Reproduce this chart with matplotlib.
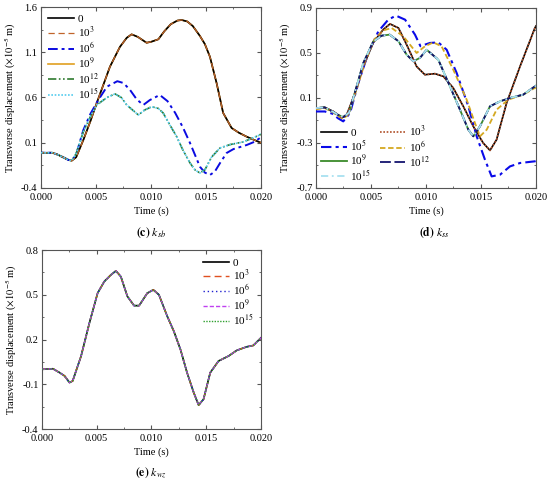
import matplotlib
matplotlib.use("Agg")
import matplotlib.pyplot as plt
from matplotlib.ticker import MultipleLocator, FormatStrFormatter

plt.rcParams['font.family'] = ['Liberation Serif', 'DejaVu Serif']
plt.rcParams['mathtext.fontset'] = 'stix'
plt.rcParams['axes.unicode_minus'] = False
plt.rcParams['font.size'] = 8

# ---- (c) k_sb ----
t_sb_a = [0, 0.0005, 0.001, 0.0015, 0.002, 0.0025, 0.0028, 0.0032, 0.00385, 0.0045,
          0.00506, 0.0057, 0.00627, 0.00718, 0.0078, 0.00824, 0.0088, 0.0096, 0.01, 0.01067,
          0.0112, 0.0118, 0.0124, 0.0128, 0.0133, 0.0138, 0.01445, 0.0149, 0.01536, 0.01597,
          0.01656, 0.01733, 0.018, 0.0187, 0.0194, 0.02]
v_sb_a = [-0.01, -0.012, -0.01, -0.03, -0.06, -0.09, -0.098, -0.06, 0.13, 0.34,
          0.536, 0.75, 0.94, 1.16, 1.26, 1.298, 1.27, 1.205, 1.215, 1.243,
          1.33, 1.41, 1.45, 1.456, 1.44, 1.39, 1.28, 1.19, 1.05, 0.757,
          0.43, 0.263, 0.21, 0.167, 0.13, 0.1]
t_sb_b = [0, 0.0005, 0.001, 0.0015, 0.002, 0.0025, 0.0028, 0.0032, 0.00385, 0.0045,
          0.0052, 0.006, 0.00694, 0.0075, 0.0081, 0.0087, 0.0093, 0.0099, 0.0108, 0.0115,
          0.0122, 0.0129, 0.01355, 0.01445, 0.0149, 0.01536, 0.0158, 0.0163, 0.01688, 0.0175,
          0.0187, 0.0194, 0.0199, 0.02]
v_sb_b = [-0.01, -0.012, -0.01, -0.03, -0.06, -0.09, -0.098, -0.03, 0.24, 0.42,
          0.57, 0.72, 0.78, 0.76, 0.683, 0.58, 0.517, 0.572, 0.628, 0.56,
          0.43, 0.27, 0.097, -0.165, -0.23, -0.256, -0.22, -0.12, -0.013, 0.03,
          0.075, 0.11, 0.152, 0.16]
t_sb_c = [0, 0.0005, 0.001, 0.0015, 0.002, 0.0025, 0.0028, 0.0032, 0.00385, 0.0045,
          0.00506, 0.006, 0.00673, 0.0073, 0.0078, 0.00885, 0.0094, 0.01006, 0.01066, 0.0111,
          0.0117, 0.01234, 0.0129, 0.01355, 0.014, 0.01445, 0.0149, 0.0155, 0.01627, 0.0172,
          0.01836, 0.0192, 0.0199, 0.02]
v_sb_c = [-0.01, -0.012, -0.01, -0.03, -0.06, -0.09, -0.098, -0.02, 0.22, 0.39,
          0.517, 0.6, 0.64, 0.6, 0.517, 0.407, 0.46, 0.498, 0.48, 0.43,
          0.3, 0.167, 0.02, -0.124, -0.2, -0.234, -0.2, -0.06, 0.042, 0.08,
          0.108, 0.15, 0.186, 0.2]

# ---- (d) k_ss ----
t_ss_0 = [0, 0.0008, 0.00158, 0.002, 0.00233, 0.0028, 0.00355, 0.0043, 0.0052, 0.0061,
          0.00673, 0.0075, 0.00824, 0.00915, 0.0099, 0.01082, 0.01158, 0.01248, 0.01339, 0.0143,
          0.0152, 0.01582, 0.01642, 0.01733, 0.01855, 0.0199, 0.02]
v_ss_0 = [0.01, 0.016, -0.02, -0.05, -0.078, -0.048, 0.144, 0.38, 0.59, 0.707,
          0.758, 0.722, 0.574, 0.38, 0.307, 0.316, 0.292, 0.189, 0.026, -0.152,
          -0.3, -0.366, -0.27, 0.056, 0.38, 0.722, 0.74]
t_ss_5 = [0, 0.0008, 0.0015, 0.002, 0.00248, 0.0031, 0.00385, 0.00476, 0.00567, 0.00657,
          0.00727, 0.0081, 0.009, 0.0095, 0.0099, 0.01036, 0.01112, 0.01188, 0.01279, 0.01385,
          0.01461, 0.01536, 0.01597, 0.01673, 0.01764, 0.01855, 0.0199, 0.02]
v_ss_5 = [-0.02, -0.02, -0.04, -0.08, -0.108, -0.033, 0.233, 0.5, 0.692, 0.796,
          0.832, 0.796, 0.663, 0.56, 0.574, 0.589, 0.594, 0.529, 0.322, 0.026,
          -0.241, -0.448, -0.597, -0.582, -0.508, -0.478, -0.463, -0.46]
t_ss_6 = [0, 0.0008, 0.0015, 0.002, 0.0025, 0.003, 0.0037, 0.0045, 0.0053, 0.0061,
          0.00688, 0.00794, 0.00915, 0.0099, 0.01067, 0.01142, 0.01248, 0.0137, 0.01445, 0.01491,
          0.01552, 0.01642, 0.01748, 0.01885, 0.0199, 0.02]
v_ss_6 = [0.0, 0.01, -0.025, -0.06, -0.085, -0.04, 0.18, 0.43, 0.62, 0.70,
          0.722, 0.648, 0.5, 0.559, 0.594, 0.559, 0.352, 0.085, -0.122, -0.241,
          -0.182, -0.004, 0.085, 0.13, 0.189, 0.19]
t_ss_9 = [0, 0.0008, 0.0015, 0.002, 0.0025, 0.003, 0.0036, 0.0043, 0.0052, 0.00597,
          0.0067, 0.0075, 0.00824, 0.00885, 0.00945, 0.01006, 0.01112, 0.01218, 0.01309, 0.01385,
          0.0143, 0.01491, 0.01582, 0.01673, 0.01764, 0.01885, 0.0199, 0.02]
v_ss_9 = [0.01, 0.016, -0.02, -0.05, -0.07, -0.03, 0.17, 0.41, 0.6, 0.654,
          0.663, 0.604, 0.485, 0.426, 0.456, 0.529, 0.44, 0.203, -0.004, -0.182,
          -0.241, -0.152, 0.026, 0.07, 0.1, 0.13, 0.203, 0.21]

# ---- (e) k_wz ----
t_wz = [0, 0.001, 0.0016, 0.00206, 0.00251, 0.0028, 0.00357, 0.00433, 0.00508, 0.00569,
        0.00629, 0.00675, 0.0072, 0.0078, 0.00841, 0.00887, 0.00962, 0.01017, 0.01068, 0.01144,
        0.01204, 0.01265, 0.01325, 0.01386, 0.01431, 0.01476, 0.01537, 0.01613, 0.01704, 0.01779,
        0.0187, 0.0193, 0.02]
v_wz = [0.0, 0.004, -0.022, -0.044, -0.089, -0.078, 0.089, 0.311, 0.511, 0.589,
        0.633, 0.66, 0.622, 0.489, 0.427, 0.427, 0.511, 0.533, 0.5, 0.356,
        0.256, 0.133, -0.022, -0.156, -0.24, -0.2, -0.022, 0.056, 0.089, 0.127,
        0.151, 0.16, 0.211]

ylabel = r'Transverse displacement ($\times 10^{-5}$ m)'
frame_col = '#555555'


def style_axes(ax, ylim, ystep):
    ax.set_xlim(0, 0.02)
    ax.set_ylim(*ylim)
    ax.xaxis.set_major_locator(MultipleLocator(0.005))
    ax.xaxis.set_minor_locator(MultipleLocator(0.0025))
    # ticks start at the lower limit, not at zero
    ax.yaxis.set_major_locator(MultipleLocator(ystep, offset=ylim[0] % ystep))
    ax.yaxis.set_minor_locator(MultipleLocator(ystep / 2, offset=ylim[0] % (ystep / 2)))
    ax.xaxis.set_major_formatter(FormatStrFormatter('%.3f'))
    ax.yaxis.set_major_formatter(FormatStrFormatter('%.1f'))
    ax.tick_params(which='both', direction='in', top=True, right=True,
                   color=frame_col, labelsize=7.5)
    ax.tick_params(axis='x', pad=3.5)
    ax.tick_params(axis='y', pad=2.5)
    ax.tick_params(which='major', length=3)
    ax.tick_params(which='minor', length=1.5)
    for s in ax.spines.values():
        s.set_color(frame_col)
        s.set_linewidth(0.8)
    ax.set_xlabel('Time (s)', fontsize=7.5, labelpad=3)
    ax.set_ylabel(ylabel, fontsize=7.5, labelpad=2)


fig = plt.figure(figsize=(5.5, 4.83), dpi=100)
ax1 = fig.add_axes([0.0745, 0.6108, 0.4, 0.3747])
ax2 = fig.add_axes([0.5745, 0.6108, 0.4, 0.3727])
ax3 = fig.add_axes([0.0764, 0.1118, 0.398, 0.3706])

leg_kw = dict(frameon=False, fontsize=8, handlelength=2.3, handletextpad=0.35)

# (c)
lw = 1.2
ax1.plot(t_sb_a, v_sb_a, color='#e0a020', lw=lw, ls='-', label='10$^{9}$', zorder=2)
ax1.plot(t_sb_a, v_sb_a, color='black', lw=lw, ls='-', label='0', zorder=3)
ax1.plot(t_sb_a, v_sb_a, color='#c0642a', lw=0.9, ls=(0, (5, 3)), label='10$^{3}$', zorder=4)
ax1.plot(t_sb_b, v_sb_b, color='#0a0ae0', lw=1.4, ls=(0, (5, 2, 1.5, 2)), label='10$^{6}$', zorder=3)
ax1.plot(t_sb_c, v_sb_c, color='#2f7a2f', lw=lw, ls=(0, (5, 1.5, 1, 1.5, 1, 1.5)),
         label='10$^{12}$', zorder=3)
ax1.plot(t_sb_c, v_sb_c, color='#55ccee', lw=lw, ls=(0, (1, 1)), label='10$^{15}$', zorder=4)
style_axes(ax1, (-0.4, 1.6), 0.5)
h, l = ax1.get_legend_handles_labels()
order = [1, 2, 3, 0, 4, 5]
ax1.legend([h[i] for i in order], [l[i] for i in order], loc='upper left',
           labelspacing=0.05, borderaxespad=0.25, **leg_kw)

# (d)
ax2.plot(t_ss_0, v_ss_0, color='black', lw=lw, ls='-', label='0', zorder=3)
ax2.plot(t_ss_0, v_ss_0, color='#b0502a', lw=lw, ls=(0, (1, 1)), label='10$^{3}$', zorder=4)
ax2.plot(t_ss_5, v_ss_5, color='#0a0ae8', lw=1.5, ls=(0, (5, 2, 1.5, 2)), label='10$^{5}$', zorder=3)
ax2.plot(t_ss_6, v_ss_6, color='#d4a820', lw=1.3, ls=(0, (3, 1.5)), label='10$^{6}$', zorder=3)
ax2.plot(t_ss_9, v_ss_9, color='#3a8a2a', lw=1.3, ls='-', label='10$^{9}$', zorder=3)
ax2.plot(t_ss_9, v_ss_9, color='#14146e', lw=1.3, ls=(0, (6, 2)), label='10$^{12}$', zorder=4)
ax2.plot(t_ss_9, v_ss_9, color='#a8e0f0', lw=1.3, ls=(0, (4, 2, 1, 2)), label='10$^{15}$', zorder=5)
style_axes(ax2, (-0.7, 0.9), 0.4)
h, l = ax2.get_legend_handles_labels()
order = [0, 2, 4, 6, 1, 3, 5]
ax2.legend([h[i] for i in order], [l[i] for i in order], loc='lower left', ncol=2,
           labelspacing=0.0, columnspacing=0.8, borderaxespad=0.05, **leg_kw)

# (e)
ax3.plot(t_wz, v_wz, color='black', lw=lw, ls='-', label='0', zorder=2)
ax3.plot(t_wz, v_wz, color='#e05020', lw=1.0, ls=(0, (5, 3)), label='10$^{3}$', zorder=3)
ax3.plot(t_wz, v_wz, color='#2020d0', lw=1.0, ls=(0, (1, 2)), label='10$^{6}$', zorder=4)
ax3.plot(t_wz, v_wz, color='#c040f0', lw=1.0, ls=(0, (3, 1.5)), label='10$^{9}$', zorder=5)
ax3.plot(t_wz, v_wz, color='#30a030', lw=1.0, ls=(0, (1, 1)), label='10$^{15}$', zorder=6)
style_axes(ax3, (-0.4, 0.8), 0.3)
ax3.legend(loc='upper right', labelspacing=0.0, borderaxespad=0.3, **leg_kw)

fig.text(0.275, 0.518, r'$\mathbf{(c)}$ $k_{sb}$', ha='center', va='center', fontsize=8.5)
fig.text(0.79, 0.518, r'$\mathbf{(d)}$ $k_{ss}$', ha='center', va='center', fontsize=8.5)
fig.text(0.275, 0.021, r'$\mathbf{(e)}$ $k_{wz}$', ha='center', va='center', fontsize=8.5)

fig.savefig('out.png', dpi=100)
